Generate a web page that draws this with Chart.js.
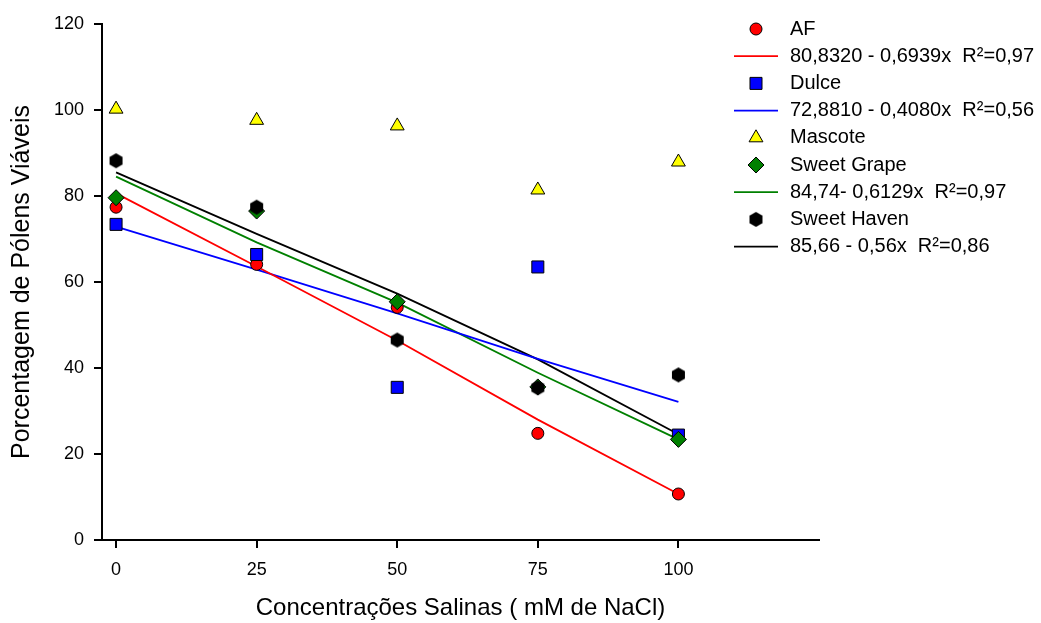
<!DOCTYPE html>
<html><head><meta charset="utf-8">
<script src="https://cdn.jsdelivr.net/npm/chart.js@4/dist/chart.umd.min.js"></script>
<style>html,body{margin:0;padding:0;background:#fff;overflow:hidden}</style>
</head><body>
<canvas id="c" width="1041" height="623"></canvas>
<script>
// ---- data ----
const concentrations = [0, 25, 50, 75, 100];
const xTicks = [0, 25, 50, 75, 100];
const yTicks = [0, 20, 40, 60, 80, 100, 120];

const seriesNames = ['AF', 'Dulce', 'Mascote', 'Sweet Grape', 'Sweet Haven'];
const afValues         = [77.4, 64.1, 54.1, 24.8, 10.7];
const dulceValues      = [73.4, 66.4, 35.5, 63.5, 24.4];
const mascoteValues    = [100.2, 97.6, 96.3, 81.4, 87.9];
const sweetGrapeValues = [79.6, 76.5, 55.4, 35.6, 23.4];
const sweetHavenValues = [88.2, 77.4, 46.5, 35.4, 38.4];

// fitted lines as drawn in the reference
const afFit         = [80.6, 63.6, 46.4, 28.0, 10.7];
const dulceFit      = [72.9, 62.9, 52.7, 42.1, 32.1];
const sweetGrapeFit = [84.5, 69.2, 55.2, 38.9, 23.4];
const sweetHavenFit = [85.5, 71.2, 57.3, 42.0, 24.6];

const fitLabels = [
  '80,8320 - 0,6939x  R\u00B2=0,97',
  '72,8810 - 0,4080x  R\u00B2=0,56',
  '84,74- 0,6129x  R\u00B2=0,97',
  '85,66 - 0,56x  R\u00B2=0,86'
];

const xTitle = 'Concentrações Salinas ( mM de NaCl)';
const yTitle = 'Porcentagem de Pólens Viáveis';

// ---- helpers ----
const FONT = '"Liberation Sans", Arial, sans-serif';
Chart.defaults.font.family = FONT;
Chart.defaults.color = '#000';

function pts(ys) { return concentrations.map((x, i) => ({x: x, y: ys[i]})); }

function makeHex(r) {
  const s = Math.ceil(2 * r + 2);
  const c = document.createElement('canvas');
  c.width = s; c.height = s;
  const g = c.getContext('2d');
  g.beginPath();
  for (let i = 0; i < 6; i++) {
    const a = -Math.PI / 2 + i * Math.PI / 3;
    g.lineTo(s / 2 + r * Math.cos(a), s / 2 + r * Math.sin(a));
  }
  g.closePath();
  g.fillStyle = '#000';
  g.fill();
  return c;
}
const hexImg = makeHex(7.5);

const markerStyles = [
  {pointStyle: 'circle',   radius: 6,   bg: '#ff0000'},
  {pointStyle: 'rect',     radius: 8.5, bg: '#0000ff'},
  {pointStyle: 'triangle', radius: 8,   bg: '#ffff00'},
  {pointStyle: 'rectRot',  radius: 8,   bg: '#008000'},
  {pointStyle: hexImg,     radius: 7.5, bg: '#000000'}
];
const lineColors = ['#ff0000', '#0000ff', '#008000', '#000000'];

function fitDs(vals, color) {
  return {data: pts(vals), showLine: true, borderColor: color, borderWidth: 1.8,
    pointRadius: 0, pointHoverRadius: 0, tension: 0, fill: false, order: 10};
}
function ptDs(vals, k, order) {
  const m = markerStyles[k];
  return {label: seriesNames[k], data: pts(vals), showLine: false, pointStyle: m.pointStyle,
    pointRadius: m.radius, pointHoverRadius: m.radius, backgroundColor: m.bg,
    borderColor: '#000', borderWidth: 1, order: order};
}

// ---- custom legend ----
const legendEntries = [
  {kind: 'pt', k: 0, text: seriesNames[0]},
  {kind: 'ln', c: lineColors[0], text: fitLabels[0]},
  {kind: 'pt', k: 1, text: seriesNames[1]},
  {kind: 'ln', c: lineColors[1], text: fitLabels[1]},
  {kind: 'pt', k: 2, text: seriesNames[2]},
  {kind: 'pt', k: 3, text: seriesNames[3]},
  {kind: 'ln', c: lineColors[2], text: fitLabels[2]},
  {kind: 'pt', k: 4, text: seriesNames[4]},
  {kind: 'ln', c: lineColors[3], text: fitLabels[3]}
];

const legendPlugin = {
  id: 'customLegend',
  afterDraw(chart) {
    const ctx = chart.ctx;
    ctx.save();
    const y0 = 29, dy = 27.2, mx = 756, lx0 = 734, lx1 = 778, tx = 790;
    legendEntries.forEach((e, i) => {
      const y = y0 + i * dy;
      if (e.kind === 'pt') {
        const m = markerStyles[e.k];
        ctx.fillStyle = m.bg;
        ctx.strokeStyle = '#000';
        ctx.lineWidth = 1;
        Chart.helpers.drawPoint(ctx, {pointStyle: m.pointStyle, radius: m.radius, rotation: 0, borderWidth: 1}, mx, y);
      } else {
        ctx.strokeStyle = e.c;
        ctx.lineWidth = 1.8;
        ctx.beginPath();
        ctx.moveTo(lx0, y); ctx.lineTo(lx1, y);
        ctx.stroke();
      }
      ctx.fillStyle = '#000';
      ctx.font = '20px ' + FONT;
      ctx.textBaseline = 'middle';
      ctx.textAlign = 'left';
      ctx.fillText(e.text, tx, y);
    });
    ctx.restore();
  }
};

new Chart(document.getElementById('c'), {
  type: 'scatter',
  data: {
    datasets: [
      fitDs(afFit, lineColors[0]),
      fitDs(dulceFit, lineColors[1]),
      fitDs(sweetGrapeFit, lineColors[2]),
      fitDs(sweetHavenFit, lineColors[3]),
      ptDs(afValues, 0, 5),
      ptDs(dulceValues, 1, 4),
      ptDs(mascoteValues, 2, 3),
      ptDs(sweetGrapeValues, 3, 2),
      ptDs(sweetHavenValues, 4, 1)
    ]
  },
  options: {
    responsive: false,
    animation: false,
    devicePixelRatio: 1,
    clip: false,
    layout: {padding: {top: 24, right: 222, bottom: 0, left: 0}},
    plugins: {legend: {display: false}, tooltip: {enabled: false}, title: {display: false}},
    scales: {
      x: {
        type: 'linear', min: -2.5, max: 125,
        afterBuildTicks: s => { s.ticks = xTicks.map(v => ({value: v})); },
        afterFit: s => { s.height = 83; },
        grid: {display: true, drawOnChartArea: false, drawTicks: true, tickLength: 8, color: '#000', lineWidth: 2},
        border: {display: true, color: '#000', width: 2},
        ticks: {color: '#000', font: {size: 18}, padding: 11, maxRotation: 0, autoSkip: false},
        title: {display: true, text: xTitle, color: '#000', font: {size: 24}, padding: {top: 0, bottom: 0}}
      },
      y: {
        type: 'linear', min: 0, max: 120,
        afterBuildTicks: s => { s.ticks = yTicks.map(v => ({value: v})); },
        afterFit: s => { s.width = 102; },
        grid: {display: true, drawOnChartArea: false, drawTicks: true, tickLength: 8, color: '#000', lineWidth: 2},
        border: {display: true, color: '#000', width: 2},
        ticks: {color: '#000', font: {size: 18}, padding: 10, autoSkip: false},
        title: {display: true, text: yTitle, color: '#000', font: {size: 25}, padding: {top: 7, bottom: 0}}
      }
    }
  },
  plugins: [legendPlugin]
});
</script>
</body></html>
